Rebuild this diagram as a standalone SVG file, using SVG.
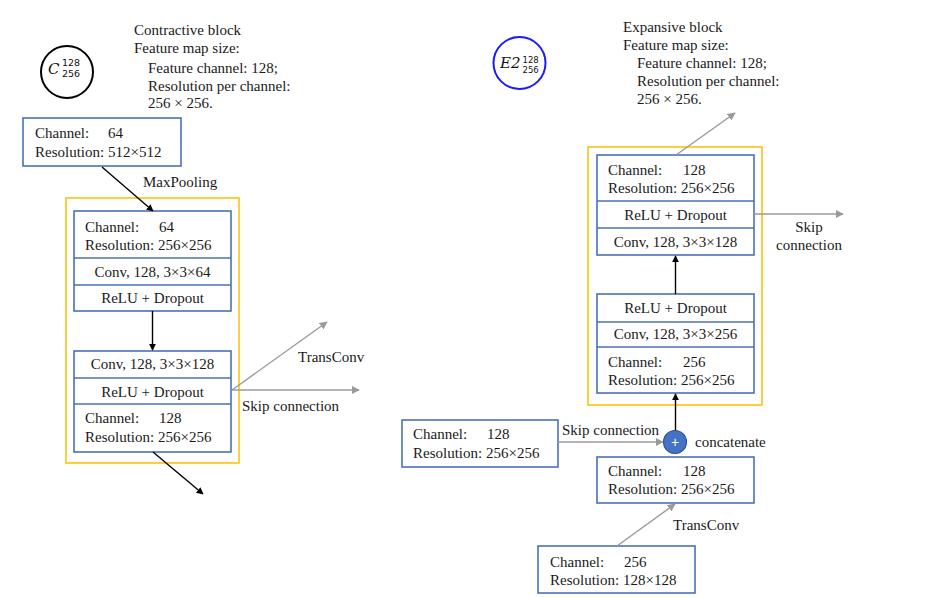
<svg xmlns="http://www.w3.org/2000/svg" width="941" height="598" viewBox="0 0 941 598">
<style>
text{font-family:"Liberation Serif","Times New Roman",serif;font-size:15px;fill:#1a1a1a}
.c{text-anchor:middle}
.box{fill:#fff;stroke:#4a70b8;stroke-width:1.6}
.div{stroke:#4a70b8;stroke-width:1.6}
.yel{fill:none;stroke:#ffc20e;stroke-width:1.6}
.blk{stroke:#000;stroke-width:1.4;fill:none}
.gry{stroke:#9a9a9a;stroke-width:1.4;fill:none}
.m{font-family:"DejaVu Serif",serif;font-style:italic;font-size:15px;fill:#111}
.ms{font-family:"DejaVu Sans",sans-serif;font-size:9.5px;fill:#111}
.ms2{font-family:"DejaVu Sans",sans-serif;font-size:8.5px;fill:#111}
</style>
<defs>
<marker id="ab" viewBox="0 0 10 10" refX="9" refY="5" markerWidth="7" markerHeight="7" markerUnits="userSpaceOnUse" orient="auto"><path d="M0,0L10,5L0,10z" fill="#000"/></marker>
<marker id="ag" viewBox="0 0 10 10" refX="9" refY="5" markerWidth="8" markerHeight="8" markerUnits="userSpaceOnUse" orient="auto"><path d="M0,0L10,5L0,10z" fill="#9a9a9a"/></marker>
</defs>
<rect width="941" height="598" fill="#fff"/>

<g id="symbol-c">
<circle cx="67" cy="72" r="26" fill="none" stroke="#000" stroke-width="2"/>
<text class="m" x="48" y="74">C</text>
<text class="ms" x="62" y="65.5">128</text>
<text class="ms" x="62" y="77">256</text>
</g>
<g id="desc-c">
<text x="134" y="35">Contractive block</text>
<text x="134" y="53">Feature map size:</text>
<text x="148" y="73">Feature channel: 128;</text>
<text x="148" y="91">Resolution per channel:</text>
<text x="148" y="108">256 × 256.</text>
</g>

<g id="in64">
<rect class="box" x="23" y="118" width="158" height="48"/>
<text x="35" y="138">Channel:<tspan x="108">64</tspan></text>
<text x="35" y="157">Resolution: 512×512</text>
</g>
<text x="143" y="187">MaxPooling</text>

<g id="cblock">
<rect class="yel" x="66" y="198" width="173" height="265"/>
<g id="c1">
<rect class="box" x="74" y="211" width="157" height="100"/>
<line class="div" x1="74" y1="258" x2="231" y2="258"/>
<line class="div" x1="74" y1="285" x2="231" y2="285"/>
<text x="85" y="232">Channel:<tspan x="159">64</tspan></text>
<text x="85" y="250">Resolution: 256×256</text>
<text class="c" x="152.5" y="277">Conv, 128, 3×3×64</text>
<text class="c" x="152.5" y="303">ReLU + Dropout</text>
</g>
<g id="c2">
<rect class="box" x="74" y="351" width="157" height="101"/>
<line class="div" x1="74" y1="378" x2="231" y2="378"/>
<line class="div" x1="74" y1="404" x2="231" y2="404"/>
<text class="c" x="152.5" y="369">Conv, 128, 3×3×128</text>
<text class="c" x="152.5" y="397">ReLU + Dropout</text>
<text x="85" y="423">Channel:<tspan x="159">128</tspan></text>
<text x="85" y="442">Resolution: 256×256</text>
</g>
</g>
<text x="298" y="362">TransConv</text>
<text x="242" y="411">Skip connection</text>

<g id="symbol-e">
<circle cx="519.5" cy="63" r="26" fill="none" stroke="#1a1aff" stroke-width="2"/>
<text class="m" x="500" y="68">E2</text>
<text class="ms2" x="522.5" y="62.5">128</text>
<text class="ms2" x="522.5" y="73">256</text>
</g>
<g id="desc-e">
<text x="623" y="32">Expansive block</text>
<text x="623" y="50">Feature map size:</text>
<text x="637" y="68">Feature channel: 128;</text>
<text x="637" y="86">Resolution per channel:</text>
<text x="637" y="104">256 × 256.</text>
</g>

<g id="eblock">
<rect class="yel" x="588" y="147" width="174" height="258"/>
<g id="e1">
<rect class="box" x="597" y="155" width="157" height="100"/>
<line class="div" x1="597" y1="201" x2="754" y2="201"/>
<line class="div" x1="597" y1="228" x2="754" y2="228"/>
<text x="608" y="175">Channel:<tspan x="683">128</tspan></text>
<text x="608" y="193">Resolution: 256×256</text>
<text class="c" x="675.5" y="220">ReLU + Dropout</text>
<text class="c" x="675.5" y="247">Conv, 128, 3×3×128</text>
</g>
<g id="e2">
<rect class="box" x="597" y="294" width="157" height="99"/>
<line class="div" x1="597" y1="322" x2="754" y2="322"/>
<line class="div" x1="597" y1="347" x2="754" y2="347"/>
<text class="c" x="675.5" y="313">ReLU + Dropout</text>
<text class="c" x="675.5" y="339">Conv, 128, 3×3×256</text>
<text x="608" y="367">Channel:<tspan x="683">256</tspan></text>
<text x="608" y="385">Resolution: 256×256</text>
</g>
</g>
<text class="c" x="809" y="232">Skip</text>
<text class="c" x="809" y="250">connection</text>

<g id="skip-in">
<rect class="box" x="402" y="420" width="156" height="47"/>
<text x="413" y="439">Channel:<tspan x="487">128</tspan></text>
<text x="413" y="458">Resolution: 256×256</text>
</g>
<text x="562" y="435">Skip connection</text>

<g id="concat">
<circle cx="675" cy="442" r="11.5" fill="#4472c4" stroke="#2f528f" stroke-width="1.2"/>
<text class="c" x="675" y="447" style="font-size:14px;fill:#fff;font-family:'Liberation Sans',sans-serif">+</text>
</g>
<text x="695" y="447">concatenate</text>

<g id="up128">
<rect class="box" x="597" y="457" width="157" height="46"/>
<text x="608" y="476">Channel:<tspan x="683">128</tspan></text>
<text x="608" y="494">Resolution: 256×256</text>
</g>
<text x="673" y="530">TransConv</text>

<g id="in256">
<rect class="box" x="538" y="546" width="157" height="47"/>
<text x="550" y="567">Channel:<tspan x="624">256</tspan></text>
<text x="550" y="585">Resolution: 128×128</text>
</g>

<g id="connectors">
<line class="blk" x1="102" y1="167" x2="153" y2="211" marker-end="url(#ab)"/>
<line class="blk" x1="152.5" y1="311" x2="152.5" y2="350" marker-end="url(#ab)"/>
<line class="gry" x1="232" y1="390" x2="327" y2="322" marker-end="url(#ag)"/>
<line class="gry" x1="232" y1="390" x2="359" y2="390" marker-end="url(#ag)"/>
<line class="blk" x1="153" y1="452" x2="203" y2="494" marker-end="url(#ab)"/>
<line class="gry" x1="676" y1="155" x2="735" y2="113" marker-end="url(#ag)"/>
<line class="gry" x1="754" y1="214" x2="843" y2="214" marker-end="url(#ag)"/>
<line class="blk" x1="675.5" y1="294" x2="675.5" y2="256" marker-end="url(#ab)"/>
<line class="blk" x1="675.5" y1="430" x2="675.5" y2="394" marker-end="url(#ab)"/>
<line class="gry" x1="558" y1="442" x2="663" y2="442" marker-end="url(#ag)"/>
<line class="gry" x1="617" y1="546" x2="675" y2="504" marker-end="url(#ag)"/>
</g>
</svg>
